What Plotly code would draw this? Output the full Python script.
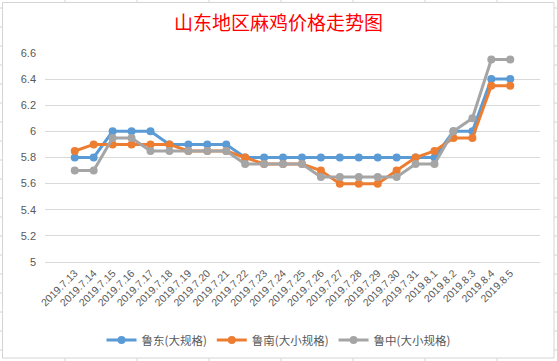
import plotly.graph_objects as go

dates = ["2019.7.13", "2019.7.14", "2019.7.15", "2019.7.16", "2019.7.17", "2019.7.18",
         "2019.7.19", "2019.7.20", "2019.7.21", "2019.7.22", "2019.7.23", "2019.7.24",
         "2019.7.25", "2019.7.26", "2019.7.27", "2019.7.28", "2019.7.29", "2019.7.30",
         "2019.7.31", "2019.8.1", "2019.8.2", "2019.8.3", "2019.8.4", "2019.8.5"]
ludong = [5.8, 5.8, 6.0, 6.0, 6.0, 5.9, 5.9, 5.9, 5.9, 5.8, 5.8, 5.8,
          5.8, 5.8, 5.8, 5.8, 5.8, 5.8, 5.8, 5.8, 6.0, 6.0, 6.4, 6.4]
lunan = [5.85, 5.9, 5.9, 5.9, 5.9, 5.9, 5.85, 5.85, 5.85, 5.8, 5.75, 5.75,
         5.75, 5.7, 5.6, 5.6, 5.6, 5.7, 5.8, 5.85, 5.95, 5.95, 6.35, 6.35]
luzhong = [5.7, 5.7, 5.95, 5.95, 5.85, 5.85, 5.85, 5.85, 5.85, 5.75, 5.75, 5.75,
           5.75, 5.65, 5.65, 5.65, 5.65, 5.65, 5.75, 5.75, 6.0, 6.1, 6.55, 6.55]
series_names = ["鲁东(大规格)", "鲁南(大小规格)", "鲁中(大小规格)"]
series_colors = ["#5B9BD5", "#ED7D31", "#A5A5A5"]
y_ticks = [5, 5.2, 5.4, 5.6, 5.8, 6, 6.2, 6.4, 6.6]
y_tick_text = ["5", "5.2", "5.4", "5.6", "5.8", "6", "6.2", "6.4", "6.6"]

W, H = 557, 361
L, R, T, B = 45, 17, 53, 99

fig = go.Figure()
for name, vals, col in zip(series_names, [ludong, lunan, luzhong], series_colors):
    fig.add_trace(go.Scatter(
        x=dates, y=vals, name=name, mode="lines+markers",
        line=dict(color=col, width=3),
        marker=dict(color=col, size=8, symbol="circle"),
    ))

pw, ph = W - L - R, H - T - B


def px(x):
    return (x - L) / pw


def py(y):
    return (H - B - y) / ph


shapes = []
grid = "#D4D4D4"
# chart area border
shapes.append(dict(type="rect", xref="paper", yref="paper",
                   x0=px(2.5), x1=px(554), y0=py(2.5), y1=py(358),
                   line=dict(color=grid, width=1), layer="below"))
# spreadsheet cell gridline stubs around the chart
for cx in [65, 137, 209, 281, 353, 425, 497]:
    shapes.append(dict(type="line", xref="paper", yref="paper",
                       x0=px(cx), x1=px(cx), y0=py(0), y1=py(2.5),
                       line=dict(color=grid, width=1)))
    shapes.append(dict(type="line", xref="paper", yref="paper",
                       x0=px(cx), x1=px(cx), y0=py(358), y1=py(361),
                       line=dict(color=grid, width=1)))
for k in range(19):
    ry = 8 + 19 * k
    shapes.append(dict(type="line", xref="paper", yref="paper",
                       x0=px(0), x1=px(2.5), y0=py(ry), y1=py(ry),
                       line=dict(color=grid, width=1)))
    shapes.append(dict(type="line", xref="paper", yref="paper",
                       x0=px(554), x1=px(557), y0=py(ry), y1=py(ry),
                       line=dict(color=grid, width=1)))

fig.update_layout(
    width=W, height=H,
    margin=dict(l=L, r=R, t=T, b=B),
    paper_bgcolor="white", plot_bgcolor="white",
    font=dict(family="Liberation Sans, Noto Sans CJK SC", color="#595959", size=10),
    title=dict(text="山东地区麻鸡价格走势图", x=0.5, xref="container", xanchor="center",
               y=1 - 23 / H, yref="container", yanchor="middle",
               font=dict(family="Noto Sans CJK SC", size=19, color="#FF0000")),
    showlegend=True,
    legend=dict(orientation="h", x=0.5, xref="container", xanchor="center",
                y=1 - 340 / H, yref="container", yanchor="middle",
                font=dict(family="Noto Sans CJK SC", size=11.5, color="#595959"),
                itemwidth=30, tracegroupgap=0, bgcolor="rgba(0,0,0,0)"),
    shapes=shapes,
)
fig.update_xaxes(type="category", tickangle=-45, showgrid=False, showline=True,
                 linecolor="#D9D9D9", ticks="", tickfont=dict(size=10.5, color="#595959"),
                 zeroline=False, automargin=False)
fig.update_yaxes(range=[5, 6.6], tickvals=y_ticks, ticktext=y_tick_text,
                 showgrid=True, gridcolor="#D9D9D9", gridwidth=1, zeroline=False,
                 showline=False, ticks="", ticklabelstandoff=8, automargin=False,
                 tickfont=dict(size=11, color="#595959"))

fig.write_html("out.html", post_script="document.body.style.margin='0';",
               config={"displayModeBar": False})
